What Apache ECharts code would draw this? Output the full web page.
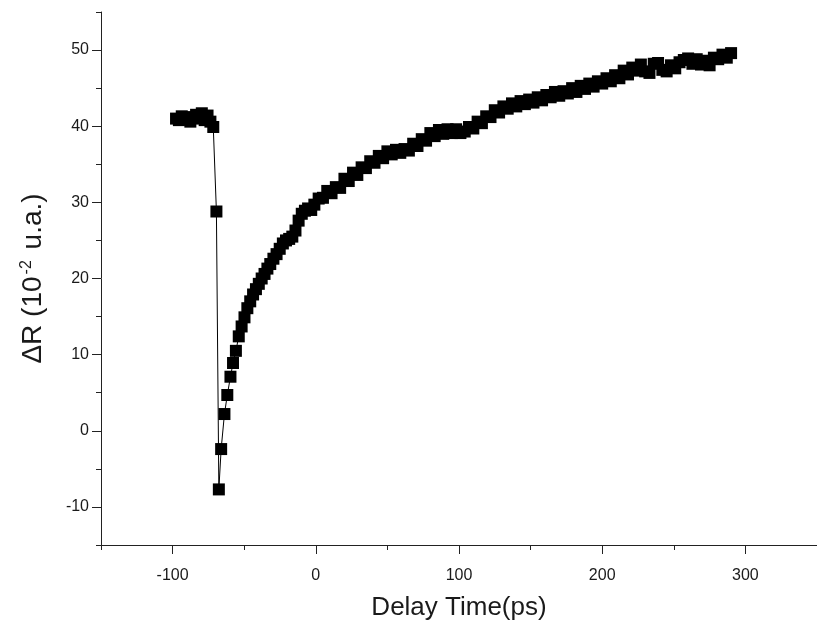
<!DOCTYPE html>
<html>
<head>
<meta charset="utf-8">
<script src="https://cdn.jsdelivr.net/npm/echarts@6/dist/echarts.min.js"></script>
<style>
html,body{margin:0;padding:0;background:#fff;}
#chart{width:817px;height:627px;}
</style>
</head>
<body>
<div id="chart"></div>
<script>
// Delay time (ps)
const delayTime = [
  -97.6,-95.6,-93.6,-91.6,-89.6,-87.6,-85.6,-83.6,-81.6,-79.6,-77.6,-75.6,-73.6,-71.6,
  -69.4,-67.7,-66.1,-63.8,-61.8,-59.6,-57.8,-55.8,-53.8,-51.8,-49.8,-47.8,-45.8,-43.8,-41.8,
  -39.8,-37.8,-35.8,-33.8,-31.8,-29.6,-27.4,-25.2,-23.0,-20.8,-18.6,-16.4,-14.2,-12.0,-9.8,
  -7.6,-5.4,-3.2,-1.0,
  2,5,8,11,14,17,20,23,26,29,32,35,38,41,44,47,50,53,56,59,62,65,68,71,74,77,80,83,86,89,
  92,95,98,101,104,107,110,113,116,119,122,125,128,131,134,137,140,143,146,149,152,155,158,
  161,164,167,170,173,176,179,182,185,188,191,194,197,200,203,206,209,212,215,218,221,224,
  227,230,233,236,239,242,245,248,251,254,257,260,263,266,269,272,275,278,281,284,287,290
];
// ΔR (10^-2 u.a.)
const deltaR = [
  41.0,40.8,41.3,40.9,41.2,40.6,41.0,41.5,41.1,41.7,40.8,41.4,40.6,39.9,
  28.8,-7.7,-2.4,2.2,4.7,7.1,8.9,10.5,12.4,13.7,14.9,16.1,17.0,17.9,18.6,
  19.3,20.0,20.6,21.3,21.9,22.6,23.2,23.9,24.6,25.0,25.2,25.5,26.3,27.6,28.5,
  28.9,29.2,29.0,29.7,
  30.5,30.6,31.5,31.2,32.0,31.9,33.1,32.8,33.9,33.6,34.6,34.5,35.4,35.2,36.1,35.8,36.7,36.3,
  36.9,36.5,37.0,36.8,37.7,37.4,38.3,38.1,39.1,38.7,39.5,39.0,
  39.6,39.1,39.6,39.1,39.3,39.9,39.7,40.6,40.4,41.3,41.2,42.1,41.8,42.6,42.3,43.0,42.6,43.3,
  42.9,43.5,43.1,43.8,43.4,
  44.1,43.8,44.5,44.0,44.6,44.3,45.0,44.5,45.3,44.9,45.6,45.2,45.9,45.6,46.3,45.9,46.7,46.3,
  47.3,46.8,47.7,47.3,
  48.1,47.2,47.0,48.2,48.3,47.4,47.2,48.0,47.6,48.4,48.7,48.9,48.2,48.8,48.1,48.6,48.0,49.0,
  48.8,49.4,49.0,49.6
];
// axis ticks
const xMajorTicks = [-100, 0, 100, 200, 300];
const xMinorTicks = [-150, -50, 50, 150, 250, 350];
const yMajorTicks = [-10, 0, 10, 20, 30, 40, 50];
const yMinorTicks = [-15, -5, 5, 15, 25, 35, 45, 55];

const points = delayTime.map((t, i) => [t, deltaR[i]]);
const FONT = "'Liberation Sans', Arial, sans-serif";
const AX = '#222';
const TXT = '#1a1a1a';

const chart = echarts.init(document.getElementById('chart'));
chart.setOption({
  animation: false,
  backgroundColor: '#fff',
  grid: { left: 101, top: 12, width: 723, height: 533 },
  xAxis: [
    {
      type: 'value', min: -150, max: 350,
      axisLine: { show: true, onZero: false, lineStyle: { color: AX, width: 1 } },
      axisTick: { show: true, customValues: xMajorTicks, length: 9, lineStyle: { color: AX } },
      axisLabel: { customValues: xMajorTicks, color: TXT, fontSize: 16, fontFamily: FONT, margin: 23 },
      splitLine: { show: false },
      name: 'Delay Time(ps)', nameLocation: 'middle', nameGap: 50,
      nameTextStyle: { fontSize: 26, fontFamily: FONT, color: TXT }
    },
    {
      type: 'value', min: -150, max: 350, position: 'bottom',
      axisLine: { show: false, onZero: false },
      axisTick: { show: true, customValues: xMinorTicks, length: 5, lineStyle: { color: AX } },
      axisLabel: { show: false },
      splitLine: { show: false }
    }
  ],
  yAxis: [
    {
      type: 'value', min: -15, max: 55,
      axisLine: { show: true, onZero: false, lineStyle: { color: AX, width: 1 } },
      axisTick: { show: true, customValues: yMajorTicks, length: 9, lineStyle: { color: AX } },
      axisLabel: { customValues: yMajorTicks, color: TXT, fontSize: 16, fontFamily: FONT, margin: 12 },
      splitLine: { show: false },
      name: '{n|ΔR (10}{s|-2}{n| u.a.)}', nameLocation: 'middle', nameGap: 53, nameRotate: 90,
      nameTextStyle: {
        fontFamily: FONT, color: TXT,
        rich: {
          n: { fontSize: 28, fontFamily: FONT, color: TXT },
          s: { fontSize: 16, fontFamily: FONT, color: TXT, verticalAlign: 'top', padding: [0, 3, 13, 2] }
        }
      }
    },
    {
      type: 'value', min: -15, max: 55, position: 'left', offset: 0,
      axisLine: { show: false, onZero: false },
      axisTick: { show: true, customValues: yMinorTicks, length: 5, lineStyle: { color: AX } },
      axisLabel: { show: false },
      splitLine: { show: false }
    }
  ],
  series: [{
    type: 'line',
    data: points,
    xAxisIndex: 0, yAxisIndex: 0,
    symbol: 'rect', symbolSize: 12, showAllSymbol: true,
    itemStyle: { color: '#000' },
    lineStyle: { color: '#000', width: 1 },
    clip: false
  }]
});
</script>
</body>
</html>
